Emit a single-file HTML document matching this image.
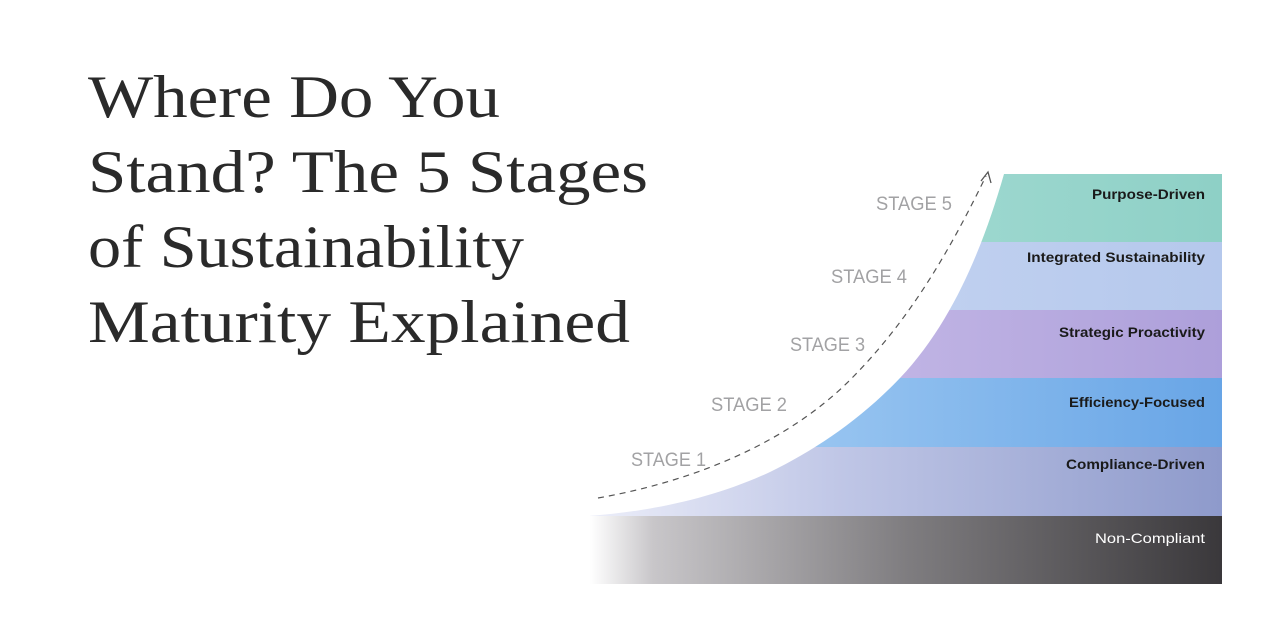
<!DOCTYPE html>
<html><head><meta charset="utf-8"><style>
html,body{margin:0;padding:0;background:#fff;}
svg{display:block;}
</style></head><body>
<svg width="1280" height="642" viewBox="0 0 1280 642" xmlns="http://www.w3.org/2000/svg">
<defs>
<linearGradient id="g1" x1="0" x2="1"><stop offset="0" stop-color="#b2e3dc"/><stop offset="1" stop-color="#8ed0c6"/></linearGradient>
<linearGradient id="g2" x1="0" x2="1"><stop offset="0" stop-color="#cddaf4"/><stop offset="1" stop-color="#b5c8ec"/></linearGradient>
<linearGradient id="g3" x1="0" x2="1"><stop offset="0" stop-color="#d2c8ee"/><stop offset="1" stop-color="#ad9fda"/></linearGradient>
<linearGradient id="g4" x1="0" x2="1"><stop offset="0" stop-color="#b2d6f6"/><stop offset="1" stop-color="#68a5e6"/></linearGradient>
<linearGradient id="g5" x1="0" x2="1"><stop offset="0" stop-color="#eceef9"/><stop offset="0.4" stop-color="#bfc6e6"/><stop offset="1" stop-color="#8e9acb"/></linearGradient>
<linearGradient id="g6" x1="0" x2="1"><stop offset="0" stop-color="#ffffff"/><stop offset="0.1" stop-color="#c8c6c9"/><stop offset="0.5" stop-color="#7f7d80"/><stop offset="1" stop-color="#3a383b"/></linearGradient>
</defs>
<rect x="590" y="174" width="632" height="68" fill="url(#g1)"/>
<rect x="590" y="242" width="632" height="68" fill="url(#g2)"/>
<rect x="590" y="310" width="632" height="68" fill="url(#g3)"/>
<rect x="590" y="378" width="632" height="69" fill="url(#g4)"/>
<rect x="590" y="447" width="632" height="69" fill="url(#g5)"/>
<rect x="590" y="516" width="632" height="68" fill="url(#g6)"/>
<path d="M580,170 L1004,170 L1004,174 C985,240 955,320 900,378 C860,420 815,450 770,472 C710,500 645,512 588,516 L580,516 Z" fill="#fff"/>
<path d="M598,498 C700,480 790,440 850,380 C910,320 950,250 986,176" fill="none" stroke="#555" stroke-width="1.2" stroke-dasharray="6,5"/>
<path d="M981,181 L988,172 L991,183" fill="none" stroke="#555" stroke-width="1.3"/>
<g font-family="Liberation Serif, serif" font-size="60" fill="#2a2a2a">
<text x="88" y="117" textLength="412" lengthAdjust="spacingAndGlyphs">Where Do You</text>
<text x="88" y="192" textLength="560" lengthAdjust="spacingAndGlyphs">Stand? The 5 Stages</text>
<text x="88" y="267" textLength="436" lengthAdjust="spacingAndGlyphs">of Sustainability</text>
<text x="88" y="342" textLength="542" lengthAdjust="spacingAndGlyphs">Maturity Explained</text>
</g>
<g font-family="Liberation Sans, sans-serif" font-size="19" fill="#a2a2a4">
<text x="876" y="210" textLength="76" lengthAdjust="spacingAndGlyphs">STAGE 5</text>
<text x="831" y="283" textLength="76" lengthAdjust="spacingAndGlyphs">STAGE 4</text>
<text x="790" y="351" textLength="75" lengthAdjust="spacingAndGlyphs">STAGE 3</text>
<text x="711" y="411" textLength="76" lengthAdjust="spacingAndGlyphs">STAGE 2</text>
<text x="631" y="466" textLength="75" lengthAdjust="spacingAndGlyphs">STAGE 1</text>
</g>
<g font-family="Liberation Sans, sans-serif" font-size="14" font-weight="bold" fill="#1a1a1a" text-anchor="end">
<text x="1205" y="199" textLength="113" lengthAdjust="spacingAndGlyphs">Purpose-Driven</text>
<text x="1205" y="262" textLength="178" lengthAdjust="spacingAndGlyphs">Integrated Sustainability</text>
<text x="1205" y="337" textLength="146" lengthAdjust="spacingAndGlyphs">Strategic Proactivity</text>
<text x="1205" y="407" textLength="136" lengthAdjust="spacingAndGlyphs">Efficiency-Focused</text>
<text x="1205" y="469" textLength="139" lengthAdjust="spacingAndGlyphs">Compliance-Driven</text>
<text x="1205" y="543" fill="#fff" font-weight="normal" textLength="110" lengthAdjust="spacingAndGlyphs">Non-Compliant</text>
</g>
</svg>
</body></html>
